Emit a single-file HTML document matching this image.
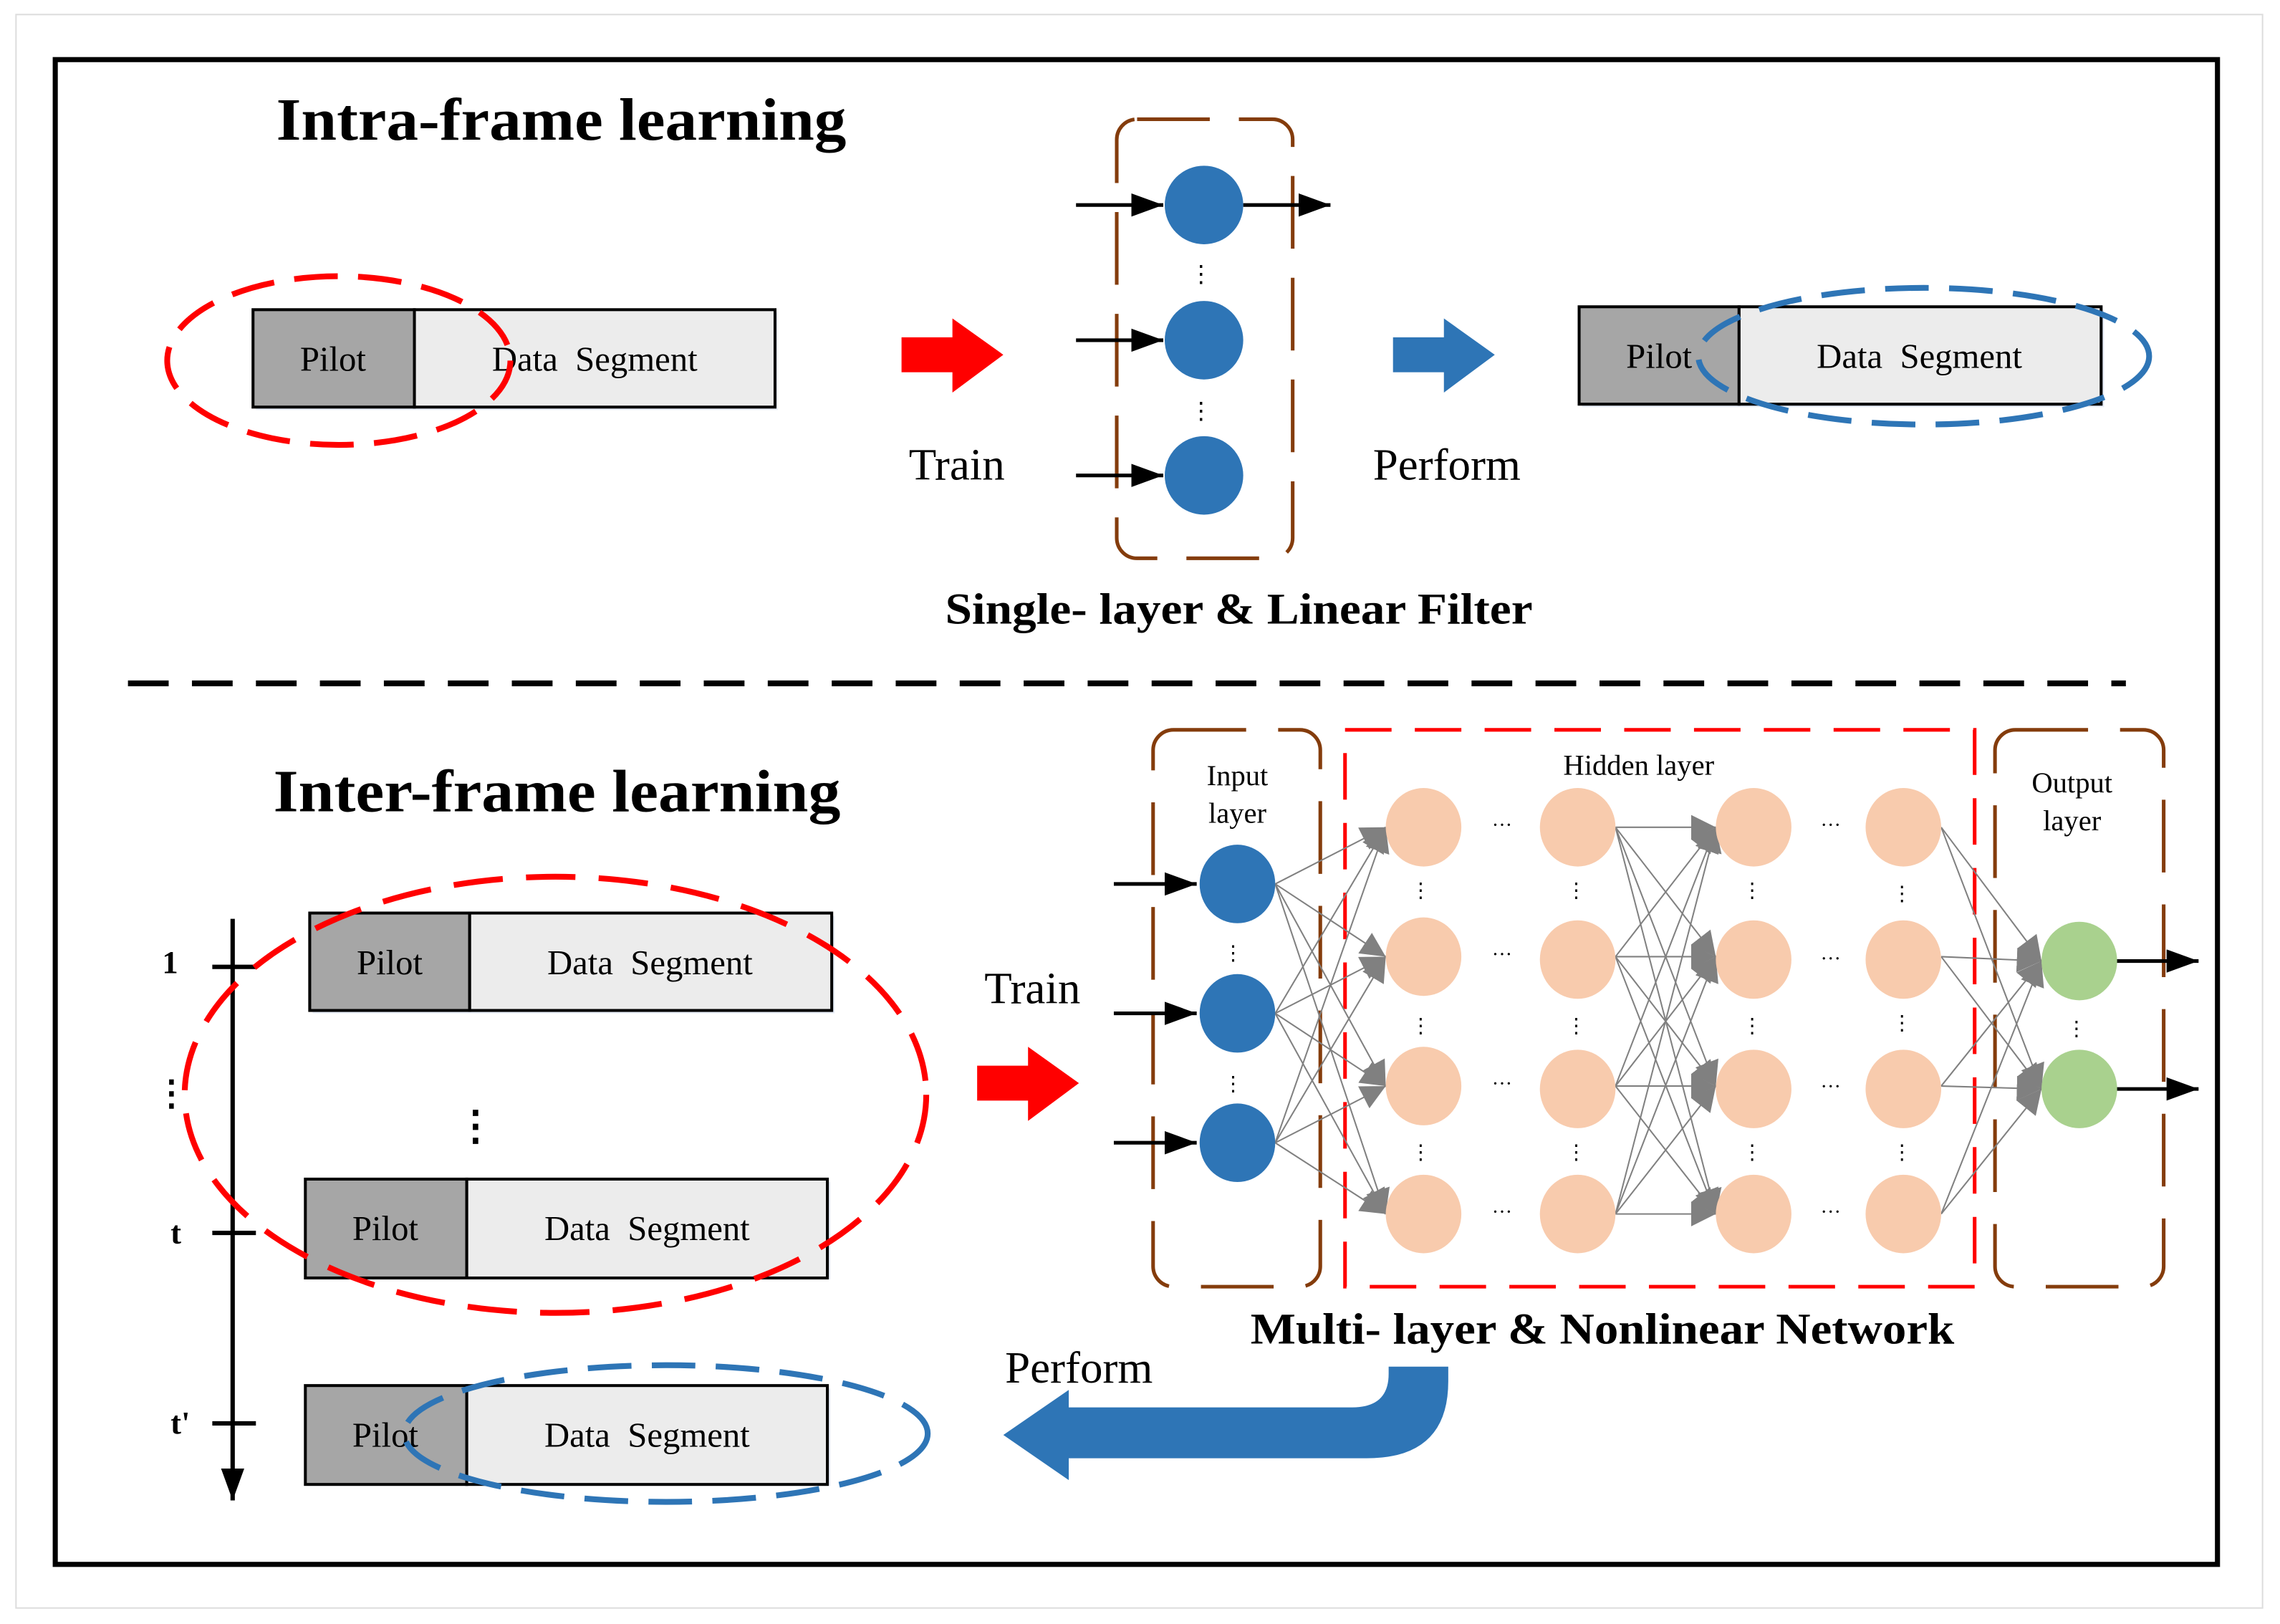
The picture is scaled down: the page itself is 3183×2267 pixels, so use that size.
<!DOCTYPE html>
<html><head><meta charset="utf-8"><style>html,body{margin:0;padding:0;background:#fff}svg{display:block}</style></head><body>
<svg width="3183" height="2267" viewBox="0 0 1568 1117" preserveAspectRatio="none" xmlns="http://www.w3.org/2000/svg" font-family="Liberation Serif, serif">
<defs>
<marker id="abk" viewBox="0 0 10 10" markerWidth="22" markerHeight="16" refX="10" refY="5" orient="auto" markerUnits="userSpaceOnUse" preserveAspectRatio="none"><path d="M0,0 L10,5 L0,10 Z" fill="#000"/></marker>
<marker id="ag" viewBox="0 0 10 10" markerWidth="17" markerHeight="17" refX="10" refY="5" orient="auto" markerUnits="userSpaceOnUse"><path d="M0,0 L10,5 L0,10 Z" fill="#808080"/></marker>
</defs>
<rect x="11" y="10" width="1545" height="1096" fill="none" stroke="#ddd" stroke-width="1"/>
<rect x="38" y="41" width="1487" height="1035" fill="none" stroke="#000" stroke-width="3.5"/>

<text x="190" y="96" font-size="41" font-weight="bold" textLength="392" lengthAdjust="spacingAndGlyphs">Intra-frame learning</text>
<rect x="176" y="215" width="359" height="67" fill="#cfdcef" opacity="0.5"/>
<rect x="174" y="213" width="111" height="67" fill="#a6a6a6" stroke="#000" stroke-width="2"/>
<rect x="285" y="213" width="248" height="67" fill="#ececec" stroke="#000" stroke-width="2"/>
<text x="229" y="255" font-size="24" text-anchor="middle">Pilot</text>
<text x="409" y="255" font-size="24" text-anchor="middle" word-spacing="6">Data Segment</text>
<ellipse cx="233" cy="248" rx="118" ry="58" fill="none" stroke="#f00" stroke-width="4" stroke-dasharray="30 14"/>
<path d="M620,232 H655 V219 L690,244 L655,270 V256 H620 Z" fill="#f00"/>
<text x="658" y="330" font-size="31" text-anchor="middle">Train</text>
<rect x="768" y="82" width="121" height="302" rx="14" fill="none" stroke="#843c0c" stroke-width="2.5" stroke-dasharray="50 20"/>
<line x1="740" y1="141" x2="800" y2="141" stroke="#000" stroke-width="2.5" marker-end="url(#abk)"/>
<line x1="740" y1="234" x2="800" y2="234" stroke="#000" stroke-width="2.5" marker-end="url(#abk)"/>
<line x1="740" y1="327" x2="800" y2="327" stroke="#000" stroke-width="2.5" marker-end="url(#abk)"/>
<line x1="855" y1="141" x2="915" y2="141" stroke="#000" stroke-width="2.5" marker-end="url(#abk)"/>
<circle cx="828" cy="141" r="27" fill="#2e75b6"/>
<circle cx="828" cy="234" r="27" fill="#2e75b6"/>
<circle cx="828" cy="327" r="27" fill="#2e75b6"/>
<text x="826" y="194" font-size="16" text-anchor="middle">⋮</text>
<text x="826" y="288" font-size="16" text-anchor="middle">⋮</text>
<path d="M958,232 H993 V219 L1028,244 L993,270 V256 H958 Z" fill="#2e75b6"/>
<text x="995" y="330" font-size="31" text-anchor="middle">Perform</text>
<rect x="1088" y="213" width="359" height="67" fill="#cfdcef" opacity="0.5"/>
<rect x="1086" y="211" width="110" height="67" fill="#a6a6a6" stroke="#000" stroke-width="2"/>
<rect x="1196" y="211" width="249" height="67" fill="#ececec" stroke="#000" stroke-width="2"/>
<text x="1141" y="253" font-size="24" text-anchor="middle">Pilot</text>
<text x="1320" y="253" font-size="24" text-anchor="middle" word-spacing="6">Data Segment</text>
<ellipse cx="1323" cy="245" rx="155" ry="47" fill="none" stroke="#2e75b6" stroke-width="4" stroke-dasharray="30 14"/>
<text x="650" y="429" font-size="30" font-weight="bold" textLength="404" lengthAdjust="spacingAndGlyphs">Single- layer &amp; Linear Filter</text>

<line x1="88" y1="470" x2="1462" y2="470" stroke="#000" stroke-width="4" stroke-dasharray="28 16"/>

<text x="188" y="558" font-size="41" font-weight="bold" textLength="390" lengthAdjust="spacingAndGlyphs">Inter-frame learning</text>
<line x1="160" y1="632" x2="160" y2="1032" stroke="#000" stroke-width="3" marker-end="url(#abk)"/>
<line x1="146" y1="665" x2="176" y2="665" stroke="#000" stroke-width="3"/>
<line x1="146" y1="848" x2="176" y2="848" stroke="#000" stroke-width="3"/>
<line x1="146" y1="979" x2="176" y2="979" stroke="#000" stroke-width="3"/>
<text x="117" y="669" font-size="22" font-weight="bold" text-anchor="middle">1</text>
<text x="118" y="760" font-size="24" font-weight="bold" text-anchor="middle">⋮</text>
<text x="121" y="855" font-size="22" font-weight="bold" text-anchor="middle">t</text>
<text x="124" y="986" font-size="22" font-weight="bold" text-anchor="middle">t'</text>

<g>
<rect x="215" y="630" width="359" height="67" fill="#cfdcef" opacity="0.5"/>
<rect x="213" y="628" width="110" height="67" fill="#a6a6a6" stroke="#000" stroke-width="2"/>
<rect x="323" y="628" width="249" height="67" fill="#ececec" stroke="#000" stroke-width="2"/>
<text x="268" y="670" font-size="24" text-anchor="middle">Pilot</text>
<text x="447" y="670" font-size="24" text-anchor="middle" word-spacing="6">Data Segment</text>
<rect x="212" y="813" width="359" height="67" fill="#cfdcef" opacity="0.5"/>
<rect x="210" y="811" width="111" height="68" fill="#a6a6a6" stroke="#000" stroke-width="2"/>
<rect x="321" y="811" width="248" height="68" fill="#ececec" stroke="#000" stroke-width="2"/>
<text x="265" y="853" font-size="24" text-anchor="middle">Pilot</text>
<text x="445" y="853" font-size="24" text-anchor="middle" word-spacing="6">Data Segment</text>
<rect x="212" y="955" width="359" height="67" fill="#cfdcef" opacity="0.5"/>
<rect x="210" y="953" width="111" height="68" fill="#a6a6a6" stroke="#000" stroke-width="2"/>
<rect x="321" y="953" width="248" height="68" fill="#ececec" stroke="#000" stroke-width="2"/>
<text x="265" y="995" font-size="24" text-anchor="middle">Pilot</text>
<text x="445" y="995" font-size="24" text-anchor="middle" word-spacing="6">Data Segment</text>
</g>
<text x="327" y="784" font-size="28" font-weight="bold" text-anchor="middle">⋮</text>
<ellipse cx="382" cy="753" rx="255" ry="150" fill="none" stroke="#f00" stroke-width="4" stroke-dasharray="34 16"/>
<ellipse cx="458" cy="986" rx="180" ry="47" fill="none" stroke="#2e75b6" stroke-width="4" stroke-dasharray="30 14"/>
<text x="710" y="690" font-size="31" text-anchor="middle">Train</text>
<path d="M672,733 H707 V720 L742,745 L707,771 V757 H672 Z" fill="#f00"/>
<text x="742" y="951" font-size="31" text-anchor="middle">Perform</text>
<path d="M996,940 V950 Q996,1003 940,1003 H735 V1018 L690,987 L735,956 V968 H930 Q955,968 955,945 V940 Z" fill="#2e75b6"/>

<rect x="793" y="502" width="115" height="383" rx="14" fill="none" stroke="#843c0c" stroke-width="2.5" stroke-dasharray="50 22"/>
<rect x="925" y="502" width="433" height="383" fill="none" stroke="#f00" stroke-width="2.5" stroke-dasharray="32 16"/>
<rect x="1372" y="502" width="116" height="383" rx="14" fill="none" stroke="#843c0c" stroke-width="2.5" stroke-dasharray="50 22"/>
<text x="851" y="540" font-size="20" text-anchor="middle">Input</text>
<text x="851" y="566" font-size="20" text-anchor="middle">layer</text>
<text x="1127" y="533" font-size="20" text-anchor="middle">Hidden layer</text>
<text x="1425" y="545" font-size="20" text-anchor="middle">Output</text>
<text x="1425" y="571" font-size="20" text-anchor="middle">layer</text>

<g stroke="#808080" stroke-width="1">
<line x1="877" y1="608" x2="953" y2="569" marker-end="url(#ag)"/><line x1="877" y1="608" x2="953" y2="658" marker-end="url(#ag)"/><line x1="877" y1="608" x2="953" y2="747" marker-end="url(#ag)"/><line x1="877" y1="608" x2="953" y2="835" marker-end="url(#ag)"/>
<line x1="877" y1="697" x2="953" y2="569" marker-end="url(#ag)"/><line x1="877" y1="697" x2="953" y2="658" marker-end="url(#ag)"/><line x1="877" y1="697" x2="953" y2="747" marker-end="url(#ag)"/><line x1="877" y1="697" x2="953" y2="835" marker-end="url(#ag)"/>
<line x1="877" y1="786" x2="953" y2="569" marker-end="url(#ag)"/><line x1="877" y1="786" x2="953" y2="658" marker-end="url(#ag)"/><line x1="877" y1="786" x2="953" y2="747" marker-end="url(#ag)"/><line x1="877" y1="786" x2="953" y2="835" marker-end="url(#ag)"/>
<line x1="1111" y1="569" x2="1180" y2="569" marker-end="url(#ag)"/><line x1="1111" y1="569" x2="1180" y2="658" marker-end="url(#ag)"/><line x1="1111" y1="569" x2="1180" y2="747" marker-end="url(#ag)"/><line x1="1111" y1="569" x2="1180" y2="835" marker-end="url(#ag)"/>
<line x1="1111" y1="658" x2="1180" y2="569" marker-end="url(#ag)"/><line x1="1111" y1="658" x2="1180" y2="658" marker-end="url(#ag)"/><line x1="1111" y1="658" x2="1180" y2="747" marker-end="url(#ag)"/><line x1="1111" y1="658" x2="1180" y2="835" marker-end="url(#ag)"/>
<line x1="1111" y1="747" x2="1180" y2="569" marker-end="url(#ag)"/><line x1="1111" y1="747" x2="1180" y2="658" marker-end="url(#ag)"/><line x1="1111" y1="747" x2="1180" y2="747" marker-end="url(#ag)"/><line x1="1111" y1="747" x2="1180" y2="835" marker-end="url(#ag)"/>
<line x1="1111" y1="835" x2="1180" y2="569" marker-end="url(#ag)"/><line x1="1111" y1="835" x2="1180" y2="658" marker-end="url(#ag)"/><line x1="1111" y1="835" x2="1180" y2="747" marker-end="url(#ag)"/><line x1="1111" y1="835" x2="1180" y2="835" marker-end="url(#ag)"/>
<line x1="1335" y1="569" x2="1404" y2="661" marker-end="url(#ag)"/><line x1="1335" y1="569" x2="1404" y2="749" marker-end="url(#ag)"/>
<line x1="1335" y1="658" x2="1404" y2="661" marker-end="url(#ag)"/><line x1="1335" y1="658" x2="1404" y2="749" marker-end="url(#ag)"/>
<line x1="1335" y1="747" x2="1404" y2="661" marker-end="url(#ag)"/><line x1="1335" y1="747" x2="1404" y2="749" marker-end="url(#ag)"/>
<line x1="1335" y1="835" x2="1404" y2="661" marker-end="url(#ag)"/><line x1="1335" y1="835" x2="1404" y2="749" marker-end="url(#ag)"/>
</g>
<line x1="766" y1="608" x2="823" y2="608" stroke="#000" stroke-width="2.5" marker-end="url(#abk)"/>
<line x1="766" y1="697" x2="823" y2="697" stroke="#000" stroke-width="2.5" marker-end="url(#abk)"/>
<line x1="766" y1="786" x2="823" y2="786" stroke="#000" stroke-width="2.5" marker-end="url(#abk)"/>
<line x1="1455" y1="661" x2="1512" y2="661" stroke="#000" stroke-width="2.5" marker-end="url(#abk)"/>
<line x1="1455" y1="749" x2="1512" y2="749" stroke="#000" stroke-width="2.5" marker-end="url(#abk)"/>
<g fill="#2e75b6"><ellipse cx="851" cy="608" rx="26" ry="27"/><ellipse cx="851" cy="697" rx="26" ry="27"/><ellipse cx="851" cy="786" rx="26" ry="27"/></g>
<g fill="#f8cbad">
<ellipse cx="979" cy="569" rx="26" ry="27"/><ellipse cx="979" cy="658" rx="26" ry="27"/><ellipse cx="979" cy="747" rx="26" ry="27"/><ellipse cx="979" cy="835" rx="26" ry="27"/>
<ellipse cx="1085" cy="569" rx="26" ry="27"/><ellipse cx="1085" cy="660" rx="26" ry="27"/><ellipse cx="1085" cy="749" rx="26" ry="27"/><ellipse cx="1085" cy="835" rx="26" ry="27"/>
<ellipse cx="1206" cy="569" rx="26" ry="27"/><ellipse cx="1206" cy="660" rx="26" ry="27"/><ellipse cx="1206" cy="749" rx="26" ry="27"/><ellipse cx="1206" cy="835" rx="26" ry="27"/>
<ellipse cx="1309" cy="569" rx="26" ry="27"/><ellipse cx="1309" cy="660" rx="26" ry="27"/><ellipse cx="1309" cy="749" rx="26" ry="27"/><ellipse cx="1309" cy="835" rx="26" ry="27"/>
</g>
<g fill="#a9d18e"><ellipse cx="1430" cy="661" rx="26" ry="27"/><ellipse cx="1430" cy="749" rx="26" ry="27"/></g>
<g font-size="14" text-anchor="middle">
<text x="1033" y="572">···</text><text x="1033" y="661">···</text><text x="1033" y="750">···</text><text x="1033" y="838">···</text>
<text x="1259" y="572">···</text><text x="1259" y="664">···</text><text x="1259" y="752">···</text><text x="1259" y="838">···</text>
<text x="848" y="660">⋮</text><text x="848" y="750">⋮</text><text x="1428" y="712">⋮</text>
<text x="977" y="617">⋮</text><text x="977" y="710">⋮</text><text x="977" y="797">⋮</text>
<text x="1084" y="617">⋮</text><text x="1084" y="710">⋮</text><text x="1084" y="797">⋮</text>
<text x="1205" y="617">⋮</text><text x="1205" y="710">⋮</text><text x="1205" y="797">⋮</text>
<text x="1308" y="619">⋮</text><text x="1308" y="708">⋮</text><text x="1308" y="797">⋮</text>
</g>
<text x="860" y="924" font-size="30" font-weight="bold" textLength="484" lengthAdjust="spacingAndGlyphs">Multi- layer &amp; Nonlinear Network</text>
</svg>
</body></html>
